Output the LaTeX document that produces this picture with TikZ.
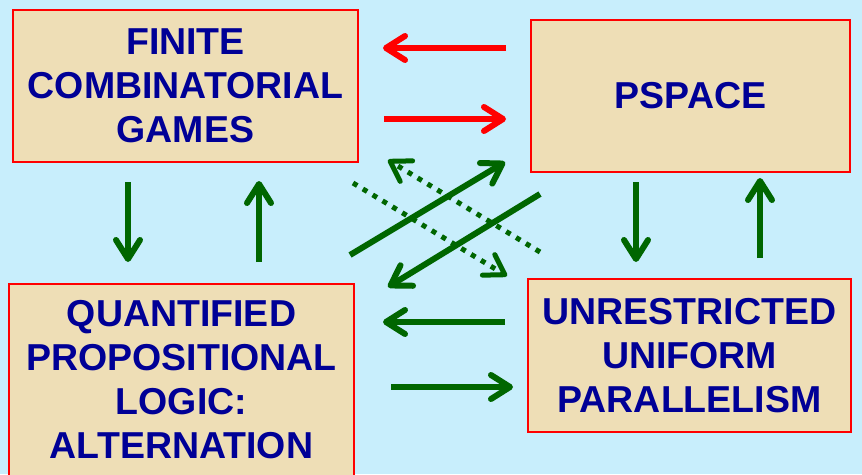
\documentclass[tikz,border=0pt]{standalone}
\usepackage{fontspec}
\setmainfont{Liberation Sans}
\usepackage{xcolor}
\usepackage{tikz}
\usetikzlibrary{arrows.meta}
\definecolor{skyback}{RGB}{200,238,252}
\definecolor{parch}{RGB}{238,222,182}
\definecolor{boxred}{RGB}{255,0,0}
\definecolor{navytext}{RGB}{0,0,150}
\definecolor{arrgreen}{RGB}{0,102,0}
\tikzset{
  gamebox/.style={draw=boxred,line width=2pt,fill=parch,text=navytext,align=center,
    inner sep=0pt,font=\fontsize{37.5}{44}\selectfont\bfseries},
  conn/.style={line width=6pt,-{Straight Barb[length=19pt,width=24pt,round]}},
  dotconn/.style={conn,line width=5pt,dash pattern=on 5pt off 6.5pt}
}
\begin{document}
\begin{tikzpicture}[x=1pt,y=-1pt]
\fill[skyback] (0,0) rectangle (862,474);
\useasboundingbox (0,0) rectangle (862,474);
\clip (0,0) rectangle (862,474);
%%First place the boxes
\node[gamebox,minimum width=345pt,minimum height=152pt] (games) at (185.5,86) {FINITE\\COMBINATORIAL\\GAMES};
\node[gamebox,minimum width=319pt,minimum height=152pt] (pspace) at (690.5,96) {PSPACE};
\node[gamebox,minimum width=345pt,minimum height=192pt] (qbf) at (181.5,380) {QUANTIFIED\\PROPOSITIONAL\\LOGIC:\\ALTERNATION};
\node[gamebox,minimum width=323pt,minimum height=153pt] (parallel) at (689.5,355.5) {UNRESTRICTED\\UNIFORM\\PARALLELISM};
%%Arrow ends
\coordinate (gp1) at (506,48);  \coordinate (gp2) at (383,48);
\coordinate (gp3) at (384,119); \coordinate (gp4) at (506,119);
\coordinate (gq1) at (128,182); \coordinate (gq2) at (128,262);
\coordinate (gq3) at (259,262); \coordinate (gq4) at (259,181);
\coordinate (pu1) at (636,182); \coordinate (pu2) at (636,262);
\coordinate (pu3) at (760,258); \coordinate (pu4) at (760,178);
\coordinate (qu1) at (505,322); \coordinate (qu2) at (383,322);
\coordinate (qu3) at (391,387); \coordinate (qu4) at (513,387);
\coordinate (qp1) at (350,255); \coordinate (qp2) at (505,162);
\coordinate (pq1) at (540,194); \coordinate (pq2) at (388,287);
\coordinate (gu1) at (353,183); \coordinate (gu2) at (507,276);
\coordinate (ug1) at (540,252); \coordinate (ug2) at (388,160);
%%Draw the red arrows
\path[conn,boxred]
(gp1) edge (gp2)
(gp3) edge (gp4);
%%Draw the green arrows
\path[conn,arrgreen]
(gq1) edge (gq2)
(gq3) edge (gq4)
(pu1) edge (pu2)
(pu3) edge (pu4)
(qu1) edge (qu2)
(qu3) edge (qu4)
(qp1) edge (qp2)
(pq1) edge (pq2);
%%Draw the dotted arrows
\path[dotconn,arrgreen]
(gu1) edge (gu2)
(ug1) edge (ug2);
\end{tikzpicture}
\end{document}
